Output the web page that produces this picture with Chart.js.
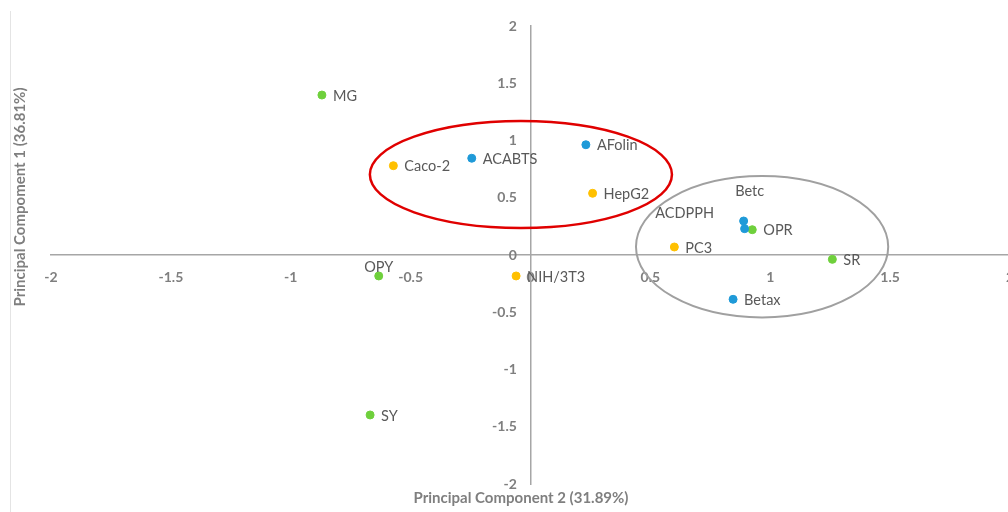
<!DOCTYPE html>
<html>
<head>
<meta charset="utf-8">
<script src="https://cdn.jsdelivr.net/npm/chart.js@4/dist/chart.umd.min.js"></script>
<style>
  html, body { margin: 0; padding: 0; background: #fff; overflow: hidden; }
  #wrap { position: relative; width: 1008px; height: 512px; overflow: hidden; }
  #frame { position: absolute; left: 10px; top: 11px; width: 0; height: 501px; border-left: 1px solid #e4e4e4; }
  canvas { position: absolute; left: 0; top: 0; }
</style>
</head>
<body>
<div id="wrap">
  <div id="frame"></div>
  <canvas id="pca" width="1040" height="512"></canvas>
</div>
<script>
// Antioxidant assays
const assayNames = ['ACABTS', 'AFolin', 'Betc', 'ACDPPH', 'Betax'];
const assayPC2 = [-0.245, 0.231, 0.889, 0.893, 0.845];
const assayPC1 = [0.845, 0.963, 0.297, 0.230, -0.387];

// Cell lines
const cellNames = ['Caco-2', 'HepG2', 'PC3', 'NIH/3T3'];
const cellPC2 = [-0.572, 0.259, 0.600, -0.060];
const cellPC1 = [0.780, 0.539, 0.070, -0.183];

// Samples
const sampleNames = ['MG', 'OPR', 'SR', 'OPY', 'SY'];
const samplePC2 = [-0.870, 0.925, 1.259, -0.633, -0.669];
const samplePC1 = [1.397, 0.221, -0.038, -0.183, -1.397];

// Axis ticks
const axisMin = -2;
const axisMax = 2;
const axisStep = 0.5;

// Grouping ellipses: centre (PC2, PC1) and radii in axis units
const groupCentersPC2 = [-0.040, 0.966];
const groupCentersPC1 = [0.703, 0.072];
const groupRadiusPC2 = [0.630, 0.526];
const groupRadiusPC1 = [0.467, 0.617];
const groupColors = ['#e00000', '#a0a0a0'];
const groupWidths = [2.5, 2];

// Label placement exceptions (pixel offsets from the point)
const labelPlacement = {
  'Betc':   { dx: 6,   dy: -30, align: 'center' },
  'ACDPPH': { dx: -60, dy: -15, align: 'center' },
  'OPY':    { dx: 0,   dy: -9,  align: 'center' }
};

function toPoints(xs, ys) {
  return xs.map((x, i) => ({ x: x, y: ys[i] }));
}

const fontFamily = 'Lato, "Open Sans", sans-serif';
const tickFont = { family: fontFamily, size: 14, weight: 'bold' };

// The y tick labels sit right-aligned on the vertical axis line;
// trailing spaces keep a small gap between the numbers and the line.
const measure = document.createElement('canvas').getContext('2d');
measure.font = 'bold 14px ' + fontFamily;
const gapSpaces = ' '.repeat(Math.max(1, Math.round(15 / measure.measureText(' ').width)));

const xTickLabel = (v) => String(Math.round(v * 10) / 10);
const yTickLabel = (v) => String(Math.round(v * 10) / 10) + gapSpaces;

const groupPlugin = {
  id: 'groups',
  beforeDatasetsDraw(chart) {
    const { ctx, scales: { x, y } } = chart;
    ctx.save();
    groupCentersPC2.forEach((cx, i) => {
      const px = x.getPixelForValue(cx);
      const py = y.getPixelForValue(groupCentersPC1[i]);
      const rx = Math.abs(x.getPixelForValue(cx + groupRadiusPC2[i]) - px);
      const ry = Math.abs(y.getPixelForValue(groupCentersPC1[i] + groupRadiusPC1[i]) - py);
      ctx.beginPath();
      ctx.ellipse(px, py, rx, ry, 0, 0, Math.PI * 2);
      ctx.strokeStyle = groupColors[i];
      ctx.lineWidth = groupWidths[i];
      ctx.stroke();
    });
    ctx.restore();
  }
};

const labelPlugin = {
  id: 'pointLabels',
  afterDatasetsDraw(chart) {
    const { ctx } = chart;
    ctx.save();
    ctx.font = '14.5px ' + fontFamily;
    ctx.fillStyle = '#595959';
    ctx.textBaseline = 'middle';
    chart.data.datasets.forEach((ds, di) => {
      const meta = chart.getDatasetMeta(di);
      meta.data.forEach((pt, i) => {
        const name = ds.names[i];
        const p = labelPlacement[name];
        if (p) {
          ctx.textAlign = p.align;
          ctx.fillText(name, pt.x + p.dx, pt.y + p.dy);
        } else {
          ctx.textAlign = 'left';
          ctx.fillText(name, pt.x + 11, pt.y + 1);
        }
      });
    });
    ctx.restore();
  }
};

const titlePlugin = {
  id: 'axisTitles',
  afterDraw(chart) {
    const { ctx, chartArea } = chart;
    ctx.save();
    ctx.font = 'bold 15px ' + fontFamily;
    ctx.fillStyle = '#7f7f7f';
    ctx.textAlign = 'center';
    ctx.textBaseline = 'middle';
    ctx.fillText('Principal Component 2 (31.89%)', 521, chartArea.bottom + 14);
    ctx.translate(20, 197);
    ctx.rotate(-Math.PI / 2);
    ctx.fillText('Principal Compoment 1 (36.81%)', 0, 0);
    ctx.restore();
  }
};

new Chart(document.getElementById('pca'), {
  type: 'scatter',
  data: {
    datasets: [
      { label: 'Assays', names: assayNames, data: toPoints(assayPC2, assayPC1),
        backgroundColor: '#1f9ad8', borderColor: '#1f9ad8', pointRadius: 4, pointHoverRadius: 4 },
      { label: 'Cell lines', names: cellNames, data: toPoints(cellPC2, cellPC1),
        backgroundColor: '#ffc000', borderColor: '#ffc000', pointRadius: 4, pointHoverRadius: 4 },
      { label: 'Samples', names: sampleNames, data: toPoints(samplePC2, samplePC1),
        backgroundColor: '#6fd03c', borderColor: '#6fd03c', pointRadius: 4, pointHoverRadius: 4 }
    ]
  },
  options: {
    responsive: false,
    animation: false,
    layout: { padding: { left: 51, right: 30, top: 26, bottom: 28 } },
    plugins: { legend: { display: false }, tooltip: { enabled: false } },
    scales: {
      x: {
        type: 'linear', min: axisMin, max: axisMax,
        position: { y: 0 },
        grid: { display: false, drawTicks: false },
        border: { display: true, color: '#a6a6a6', width: 1.5 },
        ticks: { stepSize: axisStep, font: tickFont, color: '#7f7f7f', padding: 14, maxRotation: 0, autoSkip: false, callback: xTickLabel }
      },
      y: {
        type: 'linear', min: axisMin, max: axisMax,
        position: { x: 0 },
        grid: { display: false, drawTicks: false },
        border: { display: true, color: '#a6a6a6', width: 1.5 },
        ticks: { stepSize: axisStep, font: tickFont, color: '#7f7f7f', padding: 13, autoSkip: false, callback: yTickLabel }
      }
    }
  },
  plugins: [groupPlugin, labelPlugin, titlePlugin]
});
</script>
</body>
</html>
